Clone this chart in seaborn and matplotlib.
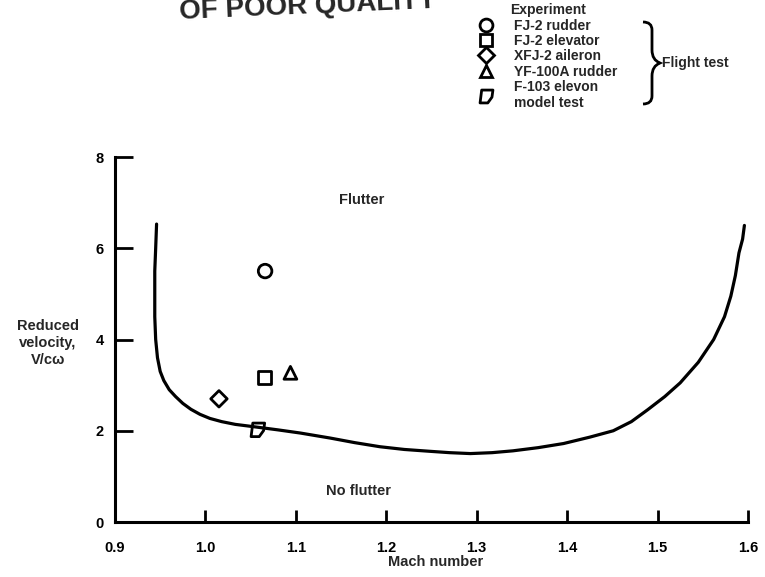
import numpy as np
import pandas as pd
import matplotlib.pyplot as plt
from matplotlib.path import Path
from matplotlib.lines import Line2D
import matplotlib.patches as mpatches
import seaborn as sns

# flutter boundary
boundary_mach = [0.946, 0.945, 0.944, 0.944, 0.944, 0.945, 0.947, 0.950, 0.954, 0.960,
                 0.967, 0.975, 0.984, 0.994, 1.005, 1.018, 1.033, 1.053, 1.080, 1.105,
                 1.138, 1.165, 1.193, 1.220, 1.248, 1.270, 1.293, 1.317, 1.340, 1.368,
                 1.396, 1.425, 1.451, 1.471, 1.489, 1.508, 1.525, 1.545, 1.562, 1.574,
                 1.581, 1.586, 1.590, 1.594, 1.596]
boundary_vel = [6.53, 6.00, 5.50, 5.00, 4.50, 4.00, 3.60, 3.30, 3.10, 2.90,
                2.75, 2.60, 2.47, 2.36, 2.27, 2.20, 2.14, 2.09, 2.02, 1.95,
                1.84, 1.74, 1.65, 1.59, 1.55, 1.52, 1.50, 1.52, 1.56, 1.63,
                1.72, 1.86, 2.00, 2.20, 2.46, 2.75, 3.05, 3.50, 4.00, 4.50,
                4.95, 5.40, 5.90, 6.20, 6.50]

# experiment points
exp_labels = ["FJ-2 rudder", "FJ-2 elevator", "XFJ-2 aileron", "YF-100A rudder",
              "F-103 elevon\nmodel test"]
exp_mach = [1.066, 1.065, 1.015, 1.094, 1.058]
exp_vel = [5.50, 3.16, 2.70, 3.27, 2.02]

x_ticks = [0.9, 1.0, 1.1, 1.2, 1.3, 1.4, 1.5, 1.6]
y_ticks = [0, 2, 4, 6, 8]

# italic "D" like symbol for the model test
d_marker = Path([(-0.75, 1.0), (1.0, 1.0), (0.85, -0.1), (0.2, -1.0), (-1.0, -1.0), (-0.75, 1.0)],
                [Path.MOVETO, Path.LINETO, Path.LINETO, Path.LINETO, Path.LINETO, Path.CLOSEPOLY])
markers = ["o", "s", "D", "^", d_marker]
sizes = [95, 85, 70, 85, 95]

sns.set_style("ticks")
plt.rcParams["font.family"] = ["Liberation Sans", "DejaVu Sans"]
plt.rcParams["font.weight"] = "bold"

fig = plt.figure(figsize=(7.65, 5.77), dpi=100)
ax = fig.add_axes([0.1503, 0.0953, 0.8275, 0.6326])

curve = pd.DataFrame({"mach": boundary_mach, "vel": boundary_vel})
sns.lineplot(data=curve, x="mach", y="vel", sort=False, estimator=None,
             color="black", linewidth=2.3, ax=ax)

handles = []
for lab, xm, yv, m, s in zip(exp_labels, exp_mach, exp_vel, markers, sizes):
    sns.scatterplot(x=[xm], y=[yv], marker=m, s=s, facecolor="none",
                    edgecolor="black", linewidth=2.0, ax=ax, zorder=3)
    handles.append(Line2D([], [], marker=m, markersize=np.sqrt(s) * 0.95, linestyle="none",
                          markerfacecolor="none", markeredgecolor="black",
                          markeredgewidth=2.0, label=lab))

ax.set_xlim(0.9, 1.6)
ax.set_ylim(0, 8)
ax.set_xticks(x_ticks)
ax.set_xticklabels([f"{t:.1f}" for t in x_ticks])
ax.set_yticks(y_ticks)
ax.tick_params(axis="both", direction="in", width=2.0, labelsize=10.5, colors="black")
ax.tick_params(axis="y", length=13, pad=8)
ax.tick_params(axis="x", length=9, pad=14)
for sp in ["top", "right"]:
    ax.spines[sp].set_visible(False)
for sp in ["left", "bottom"]:
    ax.spines[sp].set_linewidth(2.2)
    ax.spines[sp].set_color("black")

ax.set_xlabel("Mach number", fontsize=10.5, fontweight="bold", va="center")
ax.xaxis.set_label_coords(0.506, -0.11)
ax.set_ylabel("Reduced\nvelocity,\nV/cω", fontsize=10.5, fontweight="bold",
              rotation=0, ha="center", va="center", linespacing=1.25)
ax.yaxis.set_label_coords(-0.106, 0.49)

ax.text(1.173, 7.06, "Flutter", ha="center", va="center", fontsize=10.5, fontweight="bold")
ax.text(1.169, 0.68, "No flutter", ha="center", va="center", fontsize=10.5, fontweight="bold")

leg = fig.legend(handles=handles, title="Experiment", loc="upper left",
                 bbox_to_anchor=(0.625, 0.997), frameon=False, fontsize=10,
                 title_fontproperties={"weight": "bold", "size": 10},
                 handlelength=1.0, handletextpad=1.45, labelspacing=0.1,
                 borderpad=0.1, borderaxespad=0)
for t in leg.get_texts():
    t.set_fontweight("bold")

# overlay in pixel units for the brace and header
over = fig.add_axes([0, 0, 1, 1], zorder=5)
over.set_xlim(0, 765)
over.set_ylim(577, 0)
over.axis("off")
over.patch.set_visible(False)
brace = Path([(643, 22), (652, 22), (652, 30), (652, 40), (652, 50), (652, 60), (660, 63),
              (652, 66), (652, 76), (652, 86), (652, 96), (652, 104), (643, 104)],
             [Path.MOVETO, Path.CURVE3, Path.CURVE3, Path.LINETO, Path.LINETO, Path.CURVE3, Path.CURVE3,
              Path.CURVE3, Path.CURVE3, Path.LINETO, Path.LINETO, Path.CURVE3, Path.CURVE3])
over.add_patch(mpatches.PathPatch(brace, facecolor="none", edgecolor="black", linewidth=2.0))
over.text(662, 63, "Flight test", ha="left", va="center", fontsize=10, fontweight="bold")
over.text(180, 19, "OF POOR QUALITY", ha="left", va="baseline", fontsize=20,
          fontweight="bold", rotation=2.5, rotation_mode="anchor")

fig.savefig("out.png", dpi=100)
